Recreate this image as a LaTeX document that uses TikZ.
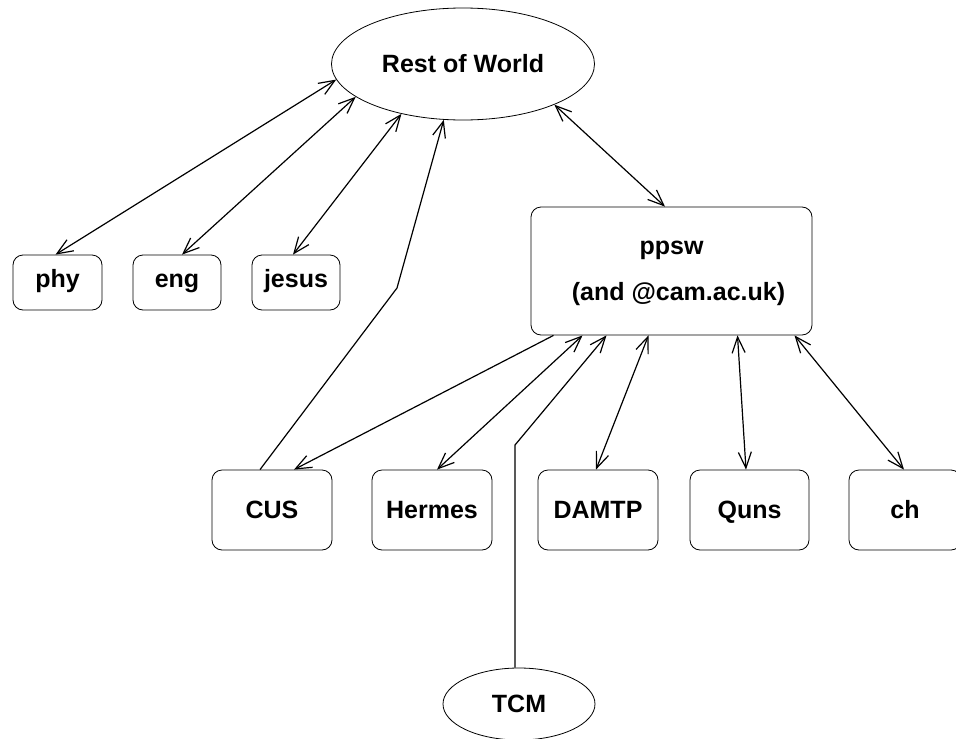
\documentclass[tikz,border=0pt]{standalone}
\usepackage{fontspec}
\setmainfont{Liberation Sans}
\usetikzlibrary{arrows.meta,shapes.geometric}
\tikzset{
  host/.style={draw,rounded corners=10pt,line width=0.8pt,inner sep=0pt,text height=18pt,text depth=1pt},
  cloud/.style={draw,ellipse,line width=0.8pt,inner sep=0pt,text height=18pt,text depth=1pt},
  link/.style={line width=1.2pt}
}
\begin{document}
\begin{tikzpicture}[x=1pt,y=-1pt,>={Straight Barb[length=16pt,width=13pt]},font=\bfseries\fontsize{25}{30}\selectfont]
  \useasboundingbox (0,0) rectangle (956,739);
  % ellipses
  \node[cloud,minimum width=263,minimum height=112] (world) at (463,64) {Rest of World};
  \node[cloud,minimum width=152,minimum height=72] (tcm) at (519,704) {TCM};
  % top row
  \node[host,text depth=9pt,minimum width=89,minimum height=55] (phy) at (57.5,282.5) {phy};
  \node[host,text depth=9pt,minimum width=88,minimum height=55] (eng) at (177,282.5) {eng};
  \node[host,text depth=9pt,minimum width=88,minimum height=55] (jesus) at (296,282.5) {jesus};
  \node[draw,rounded corners=10pt,line width=0.8pt,inner sep=0pt,minimum width=281,minimum height=128] (ppsw) at (671.5,271)
    {\raisebox{-5pt}{\begin{tabular}{@{}c@{}}ppsw\\[16pt]\hspace*{14pt}(and @cam.ac.uk)\end{tabular}}};
  % bottom row
  \node[host,minimum width=120,minimum height=80] (cus) at (272,510) {CUS};
  \node[host,minimum width=120,minimum height=80] (hermes) at (432,510) {Hermes};
  \node[host,minimum width=120,minimum height=80] (damtp) at (598,510) {DAMTP};
  \node[host,minimum width=119,minimum height=80] (quns) at (749.5,510) {Quns};
  \node[host,minimum width=112,minimum height=80] (ch) at (905,510) {ch};
  \coordinate (cusbend) at (397,288);
  \coordinate (tcmbend) at (515,445);
  % links to the rest of the world
  \draw[link,<->] (world.187) -- ([xshift=-2pt]phy.north);
  \draw[link,<->] (world.197) -- ([xshift=5pt]eng.north);
  \draw[link,<->] (world.219) -- ([xshift=-3pt]jesus.north);
  \draw[link,->] ([xshift=-12pt]cus.north) -- (cusbend) -- (world.251);
  \draw[link,<->] (world.336) -- ([xshift=-6.5pt]ppsw.north);
  % links below ppsw
  \draw[link,->] ([xshift=-118pt]ppsw.south) -- ([xshift=22pt]cus.north);
  \draw[link,<->] ([xshift=-89pt]ppsw.south) -- ([xshift=5pt]hermes.north);
  \draw[link,->] ([xshift=-4pt]tcm.north) -- (tcmbend) -- ([xshift=-65pt]ppsw.south);
  \draw[link,<->] ([xshift=-23pt]ppsw.south) -- ([xshift=-2pt]damtp.north);
  \draw[link,<->] ([xshift=66pt]ppsw.south) -- ([xshift=-3.5pt]quns.north);
  \draw[link,<->] ([xshift=123pt]ppsw.south) -- ([xshift=-1pt]ch.north);
\end{tikzpicture}
\end{document}
